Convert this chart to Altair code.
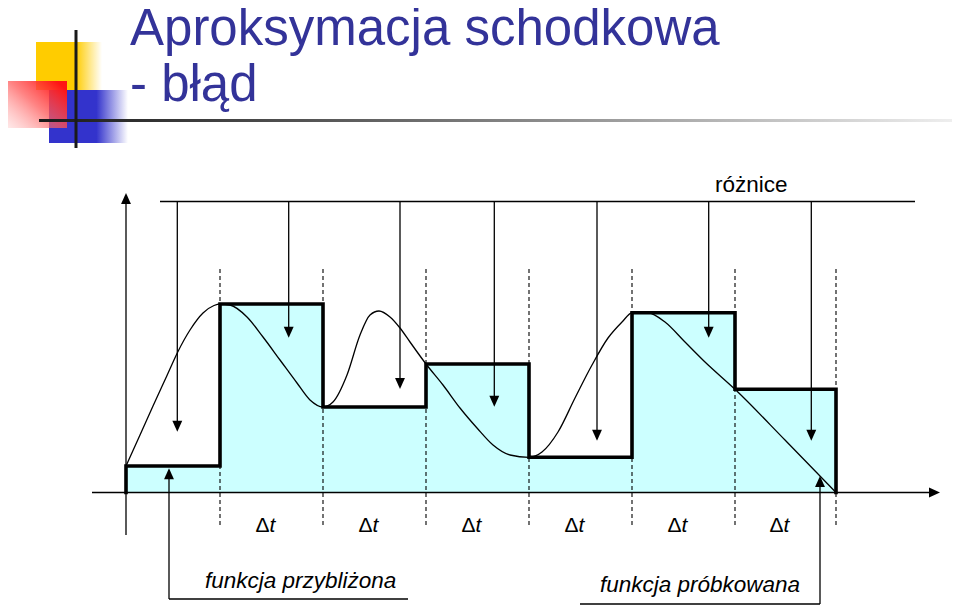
import altair as alt
import pandas as pd

# ---- diagram values (time units along the axis, origin at the vertical axis; value = height above time axis)
sample_t = [0, 94, 197, 300, 403, 506, 609, 710]          # sampling instants (last = end of last interval)
held_v = [26.5, 188.5, 85.5, 128.5, 35.2, 179.8, 103.2]    # step (zero-order hold) levels

curve_t = [0, 14, 27, 41, 52, 64, 77, 88, 94, 104, 121, 137, 154, 171, 184, 197,
           207, 221, 234, 244, 253, 264, 274, 284, 300, 317, 334, 351, 367, 384, 403,
           416, 432, 449, 466, 482, 496, 506, 514, 522, 539, 559, 579, 609, 659, 710]
curve_v = [26.5, 57.5, 86.5, 117, 141, 162.5, 179.5, 187, 188.5, 187.5, 175.5, 155.5, 132.5, 109.5, 92.5, 85.5,
           90.5, 117.5, 157.5, 177.5, 181.5, 175.5, 164.5, 150.5, 128.5, 107.5, 84.5, 64.5, 47.5, 37.5, 35.2,
           40.5, 60.5, 94.5, 127.5, 154.5, 170.5, 179.8, 180.5, 180, 170.5, 150.5, 130.5, 103.2, 52.5, 0]

diff_t = [51.3, 162.7, 274, 368.3, 471, 582.7, 685.3]      # "różnice" pointer positions
diff_tip = [60.8, 154.8, 103.5, 85.8, 51.8, 154.8, 51.8]   # where each pointer ends
diff_line_v = 291
diff_line_t = [34, 789]

dt_label = "Δ"
dt_italic = "t"
label_diff = "różnice"
label_approx = "funkcja przybliżona"
label_sampled = "funkcja próbkowana"
title_lines = ["Aproksymacja schodkowa", "- błąd"]

# ---- layout
W, H = 944, 598
xs = alt.Scale(domain=[-118, 826], nice=False, zero=False)
ys = alt.Scale(domain=[-113.5, 484.5], nice=False, zero=False)
FONT = "Liberation Sans"


def X(f="t"):
    return alt.X(f"{f}:Q", scale=xs, axis=None)


def Y(f="v"):
    return alt.Y(f"{f}:Q", scale=ys, axis=None)


# step area
area_df = pd.DataFrame({"t": sample_t, "v": held_v + [held_v[-1]], "b": 0})
area = alt.Chart(area_df).mark_area(interpolate="step-after", color="#CCFFFF", opacity=1).encode(
    x=X(), y=Y(), y2=alt.Y2("b:Q"))

# dashed sampling lines
dash_df = pd.DataFrame({"t": sample_t[1:], "v": 223.5, "v2": -33.5})
dashes = alt.Chart(dash_df).mark_rule(color="black", strokeWidth=1.1, strokeDash=[4, 3]).encode(
    x=X(), y=Y(), y2=alt.Y2("v2:Q"))

# sampled function
curve_df = pd.DataFrame({"t": curve_t, "v": curve_v})
curve = alt.Chart(curve_df).mark_line(interpolate="monotone", color="black", strokeWidth=1.3).encode(
    x=X(), y=Y())

# staircase outline
st_t, st_v = [sample_t[0]], [0]
for i, lv in enumerate(held_v):
    st_t += [sample_t[i], sample_t[i + 1]]
    st_v += [lv, lv]
st_t.append(sample_t[-1])
st_v.append(0)
stair_df = pd.DataFrame({"t": st_t, "v": st_v, "i": range(len(st_t))})
stair = alt.Chart(stair_df).mark_line(color="black", strokeWidth=3.6, strokeJoin="miter",
                                      strokeCap="square").encode(x=X(), y=Y(), order="i:Q")

# thin line segments (axes, pointer shafts, label brackets)
seg = [
    (0, -42.5, 0, 292),            # vertical axis
    (-34, 0, 806, 0),              # time axis
    (diff_line_t[0], diff_line_v, diff_line_t[1], diff_line_v),
    (43, -106.5, 43, 18),
    (43, -106.5, 282, -106.5),
    (694, -111.5, 694, 10),
    (454, -111.5, 694, -111.5),
]
for t, tip in zip(diff_t, diff_tip):
    seg.append((t, diff_line_v, t, tip + 5))
seg_df = pd.DataFrame(seg, columns=["t", "v", "t2", "v2"])
segs = alt.Chart(seg_df).mark_rule(color="black", strokeWidth=1.3).encode(
    x=X(), y=Y(), x2=alt.X2("t2:Q"), y2=alt.Y2("v2:Q"))

# arrow heads
down_path = "M-0.45,-1L0.45,-1L0,0Z"
up_path = "M-0.45,1L0.45,1L0,0Z"
right_path = "M-1,-0.45L-1,0.45L0,0Z"
heads_down = alt.Chart(pd.DataFrame({"t": diff_t, "v": diff_tip})).mark_point(
    shape=down_path, size=484, filled=True, color="black", opacity=1, strokeWidth=0).encode(x=X(), y=Y())
heads_up = alt.Chart(pd.DataFrame({"t": [0, 43, 694], "v": [299.5, 24.2, 16.5]})).mark_point(
    shape=up_path, size=484, filled=True, color="black", opacity=1, strokeWidth=0).encode(x=X(), y=Y())
heads_right = alt.Chart(pd.DataFrame({"t": [814], "v": [0]})).mark_point(
    shape=right_path, size=484, filled=True, color="black", opacity=1, strokeWidth=0).encode(x=X(), y=Y())

# Δt labels
mids = [(sample_t[i] + sample_t[i + 1]) / 2 - 2 for i in range(1, len(sample_t) - 1)]
lab_df = pd.DataFrame({"t": mids, "v": -39.2, "a": dt_label, "b": dt_italic})
delta = alt.Chart(lab_df).mark_text(font=FONT, fontSize=21, align="right", baseline="alphabetic",
                                    color="black").encode(x=X(), y=Y(), text="a:N")
tees = alt.Chart(lab_df).mark_text(font=FONT, fontSize=21, fontStyle="italic", align="left",
                                   baseline="alphabetic", color="black").encode(x=X(), y=Y(), text="b:N")

txt_df = pd.DataFrame({"t": [589], "v": [300.8], "s": [label_diff]})
txt_diff = alt.Chart(txt_df).mark_text(font=FONT, fontSize=22.5, align="left", baseline="alphabetic",
                                       color="black").encode(x=X(), y=Y(), text="s:N")
fl_df = pd.DataFrame({"t": [79, 474], "v": [-95.5, -99.2], "s": [label_approx, label_sampled]})
txt_f = alt.Chart(fl_df).mark_text(font=FONT, fontSize=22.5, fontStyle="italic", align="left",
                                   baseline="alphabetic", color="black").encode(x=X(), y=Y(), text="s:N")

# ---- slide decoration (title + logo), in page pixels
one = pd.DataFrame({"k": [0]})


def px(v):
    return alt.value(v - 8)


def grad_rect(x1, x2, y1, y2, stops, gx=(0, 1), gy=(0, 0), op=1.0):
    g = alt.Gradient(gradient="linear",
                     stops=[alt.GradientStop(color=c, offset=o) for o, c in stops],
                     x1=gx[0], x2=gx[1], y1=gy[0], y2=gy[1])
    return alt.Chart(one).mark_rect(fill=g, opacity=op).encode(
        x=px(x1), x2=px(x2), y=px(y1), y2=px(y2))


yellow = grad_rect(36, 102, 42, 90, [(0, "#FFCC00"), (0.6, "#FFCC00"), (1, "rgba(255,204,0,0)")])
blue = grad_rect(49, 128, 90, 143, [(0, "#3333CC"), (0.6, "#3333CC"), (1, "rgba(51,51,204,0)")])
red = grad_rect(3, 67, 81, 128, [(0, "rgba(255,170,170,0.2)"), (0.55, "rgba(255,90,90,0.75)"),
                                 (1, "rgba(255,20,20,1)")],
                gx=(0, 1), gy=(1, 0.2))
hline = grad_rect(39, 960, 119, 122, [(0, "#1a1a1a"), (0.35, "#606060"), (1, "#f0f0f0")])
vline = alt.Chart(one).mark_rect(fill="#1a1a1a").encode(x=px(74.5), x2=px(77.5), y=px(30), y2=px(148))

t1 = alt.Chart(one).mark_text(text=title_lines[0], font=FONT, fontSize=51, align="left",
                              baseline="alphabetic", color="#333399").encode(x=px(130), y=px(45))
t2 = alt.Chart(one).mark_text(text=title_lines[1], font=FONT, fontSize=51, align="left",
                              baseline="alphabetic", color="#333399").encode(x=px(130), y=px(101))

chart = alt.layer(
    yellow, blue, red, hline, vline, t1, t2,
    area, dashes, curve, stair, segs, heads_down, heads_up, heads_right,
    delta, tees, txt_diff, txt_f,
).properties(
    width=W, height=H, autosize=alt.AutoSizeParams(type="none"), padding=0, background="white"
).configure_view(stroke=None)

chart.save("out.html", embed_options={"renderer": "svg", "actions": False})
